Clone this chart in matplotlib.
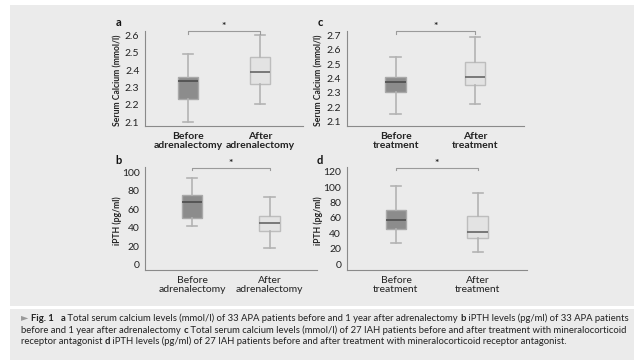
import matplotlib.pyplot as plt
from matplotlib.patches import Rectangle

# box stats: whislo, q1, median, q3, whishi
ca_apa_before = [2.10, 2.235, 2.338, 2.36, 2.494]
ca_apa_after = [2.203, 2.319, 2.39, 2.476, 2.60]
pth_apa_before = [41.7, 50.4, 67.6, 75.2, 94.2]
pth_apa_after = [18.0, 36.3, 45.3, 53.2, 73.4]
ca_iah_before = [2.153, 2.307, 2.374, 2.41, 2.546]
ca_iah_after = [2.222, 2.353, 2.408, 2.512, 2.688]
pth_iah_before = [27.6, 45.8, 57.0, 70.4, 101.9]
pth_iah_after = [16.3, 34.5, 41.8, 62.9, 91.9]

apa_labels = ["Before\nadrenalectomy", "After\nadrenalectomy"]
iah_labels = ["Before\ntreatment", "After\ntreatment"]
ca_ticks_a = [2.1, 2.2, 2.3, 2.4, 2.5, 2.6]
ca_ticks_c = [2.1, 2.2, 2.3, 2.4, 2.5, 2.6, 2.7]
pth_ticks_b = [0, 20, 40, 60, 80, 100]
pth_ticks_d = [0, 20, 40, 60, 80, 100, 120]

# caption pieces: (text, weight, colour)
caption = [
    [("\u25ba ", "normal", "#999999"), ("Fig. 1", "bold", None), ("   ", "normal", None), ("a", "bold", None),
     (" Total serum calcium levels (mmol/l) of 33 APA patients before and 1 year after adrenalectomy ", "normal", None),
     ("b", "bold", None), (" iPTH levels (pg/ml) of 33 APA patients", "normal", None)],
    [("before and 1 year after adrenalectomy ", "normal", None), ("c", "bold", None),
     (" Total serum calcium levels (mmol/l) of 27 IAH patients before and after treatment with mineralocorticoid", "normal", None)],
    [("receptor antagonist ", "normal", None), ("d", "bold", None),
     (" iPTH levels (pg/ml) of 27 IAH patients before and after treatment with mineralocorticoid receptor antagonist.", "normal", None)],
]

plt.rcParams['font.family'] = ['Lato', 'DejaVu Sans']
W, H = 640, 360
fig = plt.figure(figsize=(6.4, 3.6), dpi=100, facecolor='white')

bg = '#ebebeb'
fig.patches.append(Rectangle((10 / W, (H - 306) / H), 624 / W, 301 / H, transform=fig.transFigure,
                             facecolor=bg, edgecolor='none', zorder=-10))
fig.patches.append(Rectangle((10 / W, 0), 624 / W, (H - 308.5) / H, transform=fig.transFigure,
                             facecolor=bg, edgecolor='none', zorder=-10))


def px_axes(left, top, right, bottom):
    return fig.add_axes([left / W, (H - bottom) / H, (right - left) / W, (bottom - top) / H])


def panel(box, before, after, labels, ticks, ylim, xmargin, width, ylabel, bold_x):
    ax = px_axes(*box)
    ax.set_facecolor('none')
    stats = []
    for vals in (before, after):
        stats.append(dict(whislo=vals[0], q1=vals[1], med=vals[2], q3=vals[3], whishi=vals[4], fliers=[]))
    bp = ax.bxp(stats, positions=[1, 2], widths=width, capwidths=width * 0.5, patch_artist=True,
                showfliers=False,
                whiskerprops=dict(color='#b3b3b3', linewidth=1.2),
                capprops=dict(color='#b3b3b3', linewidth=1.2))
    faces = ['#8c8c8c', '#e3e3e3']
    edges = ['#a9a9a9', '#bdbdbd']
    meds = ['#4d4d4d', '#666666']
    for i in range(2):
        bp['boxes'][i].set_facecolor(faces[i])
        bp['boxes'][i].set_edgecolor(edges[i])
        bp['boxes'][i].set_linewidth(1.0)
        bp['medians'][i].set_color(meds[i])
        bp['medians'][i].set_linewidth(1.2)
    ax.set_xlim(1 - xmargin, 2 + xmargin)
    ax.set_ylim(*ylim)
    ax.set_yticks(ticks)
    ax.set_yticklabels([str(t) for t in ticks])
    ax.set_xticks([1, 2])
    ax.set_xticklabels(labels, fontweight='bold' if bold_x else 'normal', fontsize=7.5, color='#222222',
                       linespacing=1.1)
    ax.tick_params(length=0, labelsize=7.5, colors='#222222', pad=4)
    for s in ['top', 'right']:
        ax.spines[s].set_visible(False)
    for s in ['left', 'bottom']:
        ax.spines[s].set_color('#8a8a8a')
        ax.spines[s].set_linewidth(0.8)
    ax.set_ylabel(ylabel, fontsize=6.2, fontweight='bold', color='#222222')
    # significance bracket
    ytop = ylim[1] - (ylim[1] - ylim[0]) * 0.005
    tick = (ylim[1] - ylim[0]) * 0.025
    ax.plot([1, 1, 2, 2], [ytop - tick, ytop, ytop, ytop - tick], color='#9a9a9a', lw=0.8, clip_on=False)
    ax.text(1.5, ytop, '*', ha='center', va='bottom', fontsize=7.5, fontweight='bold', color='#222222')
    return ax


ax_a = panel((145, 31, 303, 126), ca_apa_before, ca_apa_after, apa_labels, ca_ticks_a, (2.077, 2.625),
             0.59, 0.28, 'Serum Calcium (mmol/l)', True)
ax_c = panel((346.7, 31, 524, 126), ca_iah_before, ca_iah_after, iah_labels, ca_ticks_c, (2.072, 2.728),
             0.615, 0.26, 'Serum Calcium (mmol/l)', True)
ax_b = panel((145, 167.3, 316.7, 270), pth_apa_before, pth_apa_after, apa_labels, pth_ticks_b, (-5.4, 105.4),
             0.605, 0.27, 'iPTH (pg/ml)', False)
ax_d = panel((346.7, 167.3, 527, 270), pth_iah_before, pth_iah_after, iah_labels, pth_ticks_d, (-7.4, 125.7),
             0.603, 0.25, 'iPTH (pg/ml)', False)

for ax, lx in [(ax_a, 122), (ax_b, 122), (ax_c, 323), (ax_d, 323)]:
    bb = ax.get_position()
    ax.yaxis.set_label_coords((lx / W - bb.x0) / bb.width, 0.48)

for letter, (x, y) in zip('abcd', [(119, 23), (119, 160), (320, 23), (320, 160)]):
    fig.text(x / W, (H - y) / H, letter, fontsize=8, fontweight='bold', ha='center', va='center',
             color='#111111')

# caption, pieces chained so bold words sit inline
for i, line in enumerate(caption):
    y = (H - 321 - i * 11.7) / H
    prev = None
    for txt, weight, col in line:
        kw = dict(fontsize=6.85, fontweight=weight, color=col or '#222222', ha='left')
        if prev is None:
            prev = fig.text(21 / W, y, txt, va='baseline', **kw)
        else:
            prev = fig.add_artist(plt.Annotation(txt, xy=(1, 0), xycoords=prev, xytext=(0, 0),
                                                 textcoords='offset points', va='bottom', **kw))

fig.savefig('out.png', dpi=100, facecolor='white')
